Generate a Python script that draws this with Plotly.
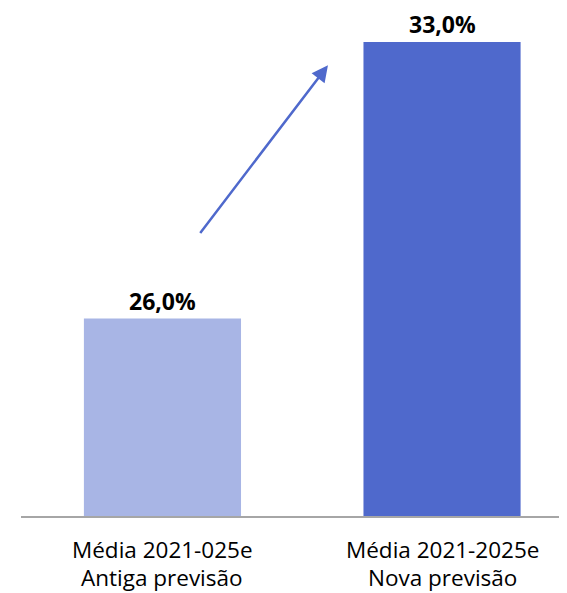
import plotly.graph_objects as go

cat_line1 = ["Média 2021-025e", "Média 2021-2025e"]
cat_line2 = ["Antiga previsão", "Nova previsão"]
values = [26.0, 33.0]
value_labels = ["26,0%", "33,0%"]
bar_colors = ["#A8B5E5", "#4F69CC"]
arrow_from = (0.131, 28.13)
arrow_to = (0.592, 32.41)

xpos = list(range(len(values)))

fig = go.Figure()
fig.add_trace(go.Bar(
    x=xpos, y=values, marker=dict(color=bar_colors, line=dict(width=0)),
    width=0.562, hoverinfo="skip", showlegend=False,
))

for xi, v, lab in zip(xpos, values, value_labels):
    fig.add_annotation(x=xi, y=v, text="<b>" + lab + "</b>", showarrow=False,
                       yanchor="bottom", yshift=0,
                       font=dict(family="Open Sans", size=23, color="#000000"))

for xi, l1, l2 in zip(xpos, cat_line1, cat_line2):
    fig.add_annotation(x=xi, y=0, xref="x", yref="paper", text=l1, showarrow=False,
                       yanchor="middle", yshift=-33,
                       font=dict(family="Open Sans", size=22.5, color="#000000"))
    fig.add_annotation(x=xi, y=0, xref="x", yref="paper", text=l2, showarrow=False,
                       yanchor="middle", yshift=-61,
                       font=dict(family="Open Sans", size=22.5, color="#000000"))

fig.add_annotation(x=arrow_to[0], y=arrow_to[1], ax=arrow_from[0], ay=arrow_from[1],
                   xref="x", yref="y", axref="x", ayref="y", text="",
                   showarrow=True, arrowhead=2, arrowsize=1.3, arrowwidth=2.5,
                   arrowcolor="#4F69CC")

fig.update_layout(
    width=559, height=585,
    margin=dict(l=13, r=0, t=0, b=77),
    paper_bgcolor="white", plot_bgcolor="white",
    xaxis=dict(range=[-0.506, 1.447], tickvals=xpos, showticklabels=False,
               showgrid=False, zeroline=False, showline=True, linecolor="#A6A6A6",
               linewidth=1.5, ticks=""),
    yaxis=dict(range=[21, 33.862], visible=False, showgrid=False, zeroline=False),
)

fig.write_html("out.html")
